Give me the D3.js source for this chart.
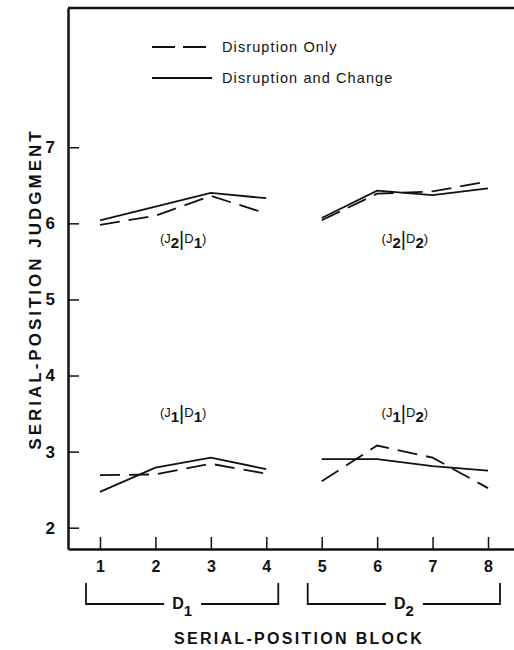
<!DOCTYPE html>
<html>
<head>
<meta charset="utf-8">
<script src="https://cdn.jsdelivr.net/npm/d3@7"></script>
<style>
  body { margin: 0; background: #fff; }
  text { font-family: "Liberation Sans", Arial, sans-serif; fill: #111; }
</style>
</head>
<body>
<div id="chart"></div>
<script>
var blocks = [1, 2, 3, 4, 5, 6, 7, 8];
var yTicks = [2, 3, 4, 5, 6, 7];

// J2 (upper) and J1 (lower) judgments, split by D1 (blocks 1-4) and D2 (blocks 5-8)
var onlyJ2 = [5.98, 6.10, 6.36, 6.13, 6.04, 6.39, 6.42, 6.55];
var changeJ2 = [6.04, 6.22, 6.40, 6.33, 6.07, 6.43, 6.37, 6.46];
var onlyJ1 = [2.69, 2.70, 2.84, 2.71, 2.61, 3.08, 2.92, 2.52];
var changeJ1 = [2.47, 2.79, 2.92, 2.77, 2.90, 2.90, 2.81, 2.75];

var groupLabels = [
  {j: '2', d: '1', block: 2.5, value: 5.74},
  {j: '2', d: '2', block: 6.5, value: 5.74},
  {j: '1', d: '1', block: 2.5, value: 3.45},
  {j: '1', d: '2', block: 6.5, value: 3.45}
];
var brackets = [
  {name: 'D', sub: '1', from: 1, to: 4},
  {name: 'D', sub: '2', from: 5, to: 8}
];
var legendItems = [
  {name: 'Disruption Only', dash: '23,8'},
  {name: 'Disruption and Change', dash: null}
];

var width = 514, height = 650;

var svg = d3.select('#chart')
  .append('svg')
  .attr('width', width)
  .attr('height', height);

var x = d3.scaleLinear().domain([0.423, 8.469]).range([68, 514]);
var y = d3.scaleLinear().domain([1.72, 8.83]).range([549, 8]);

// frame top
svg.append('line')
  .attr('x1', x.range()[0]).attr('x2', x.range()[1])
  .attr('y1', y.range()[1]).attr('y2', y.range()[1])
  .attr('stroke', '#111').attr('stroke-width', 2.5);

var yAxis = svg.append('g')
  .attr('transform', 'translate(' + x.range()[0] + ',0)')
  .call(d3.axisLeft(y).tickValues(yTicks).tickSize(-11).tickSizeOuter(0).tickPadding(13));
yAxis.select('.domain').attr('stroke', '#111').attr('stroke-width', 2.5);
yAxis.selectAll('.tick line').attr('stroke', '#111').attr('stroke-width', 1.5);
yAxis.selectAll('.tick text')
  .attr('font-size', 17).attr('font-weight', 'bold')
  .style('font-family', '"Liberation Sans", Arial, sans-serif').attr('fill', '#111');

var xAxis = svg.append('g')
  .attr('transform', 'translate(0,' + y.range()[0] + ')')
  .call(d3.axisBottom(x).tickValues(blocks).tickSize(-12).tickSizeOuter(0).tickPadding(12));
xAxis.select('.domain').attr('stroke', '#111').attr('stroke-width', 2.5);
xAxis.selectAll('.tick line').attr('stroke', '#111').attr('stroke-width', 1.5);
xAxis.selectAll('.tick text')
  .attr('font-size', 16).attr('font-weight', 'bold')
  .style('font-family', '"Liberation Sans", Arial, sans-serif').attr('fill', '#111');

// lines, drawn per D segment
var line = d3.line()
  .x(function(d){return x(d.block);})
  .y(function(d){return y(d.value);});

function segments(values){
  var pts = blocks.map(function(b, i){return {block: b, value: values[i]};});
  return [pts.slice(0, 4), pts.slice(4, 8)];
}

var series = [
  {values: onlyJ2, dash: '20,9'},
  {values: onlyJ1, dash: '20,9'},
  {values: changeJ2, dash: null},
  {values: changeJ1, dash: null}
];
series.forEach(function(s){
  svg.selectAll(null)
    .data(segments(s.values))
    .enter()
    .append('path')
    .attr('d', line)
    .attr('fill', 'none')
    .attr('stroke', '#111')
    .attr('stroke-width', 1.8)
    .attr('stroke-dasharray', s.dash);
});

// group labels like (J2|D1)
groupLabels.forEach(function(g){
  var t = svg.append('text')
    .attr('x', x(g.block))
    .attr('y', y(g.value))
    .attr('text-anchor', 'middle')
    .attr('font-size', 13);
  t.append('tspan').text('(J');
  t.append('tspan').attr('dy', 5).attr('font-size', 15).attr('font-weight', 'bold').text(g.j);
  t.append('tspan').attr('dy', -2).attr('font-size', 20).text('|');
  t.append('tspan').attr('dy', -3).text('D');
  t.append('tspan').attr('dy', 5).attr('font-size', 15).attr('font-weight', 'bold').text(g.d);
  t.append('tspan').attr('dy', -5).text(')');
});

// legend
var legend = svg.selectAll('g.legend')
  .data(legendItems)
  .enter()
  .append('g')
  .classed('legend', true)
  .attr('transform', function(d, i){return 'translate(152,' + (47 + i * 31) + ')';});
legend.append('line')
  .attr('x1', 0).attr('x2', 60)
  .attr('stroke', '#111').attr('stroke-width', 1.8)
  .attr('stroke-dasharray', function(d){return d.dash;});
legend.append('text')
  .attr('x', 70).attr('dy', '0.35em')
  .attr('font-size', 14.5)
  .attr('font-weight', 500)
  .style('letter-spacing', '1.1px')
  .text(function(d){return d.name;});

// D1 / D2 brackets
var bracketTop = 583, bracketY = 604;
brackets.forEach(function(b){
  var x0 = x(b.from) - 14, x1 = x(b.to) + 12, mid = (x0 + x1) / 2;
  svg.append('path')
    .attr('d', 'M' + x0 + ',' + bracketTop + 'V' + bracketY + 'H' + (mid - 18))
    .attr('fill', 'none').attr('stroke', '#111').attr('stroke-width', 1.8);
  svg.append('path')
    .attr('d', 'M' + (mid + 19) + ',' + bracketY + 'H' + x1 + 'V' + bracketTop)
    .attr('fill', 'none').attr('stroke', '#111').attr('stroke-width', 1.8);
  var t = svg.append('text')
    .attr('x', mid).attr('y', bracketY + 5)
    .attr('text-anchor', 'middle')
    .attr('font-size', 16).attr('font-weight', 'bold');
  t.append('tspan').text(b.name);
  t.append('tspan').attr('dy', 7).attr('font-size', 15).text(b.sub);
});

// axis titles
svg.append('text')
  .attr('x', 299).attr('y', 644)
  .attr('text-anchor', 'middle')
  .attr('font-size', 16).attr('font-weight', 'bold')
  .style('letter-spacing', '2.3px')
  .text('SERIAL-POSITION BLOCK');

svg.append('text')
  .attr('transform', 'translate(41,289) rotate(-90)')
  .attr('text-anchor', 'middle')
  .attr('font-size', 17).attr('font-weight', 'bold')
  .style('letter-spacing', '3px')
  .text('SERIAL-POSITION JUDGMENT');
</script>
</body>
</html>
